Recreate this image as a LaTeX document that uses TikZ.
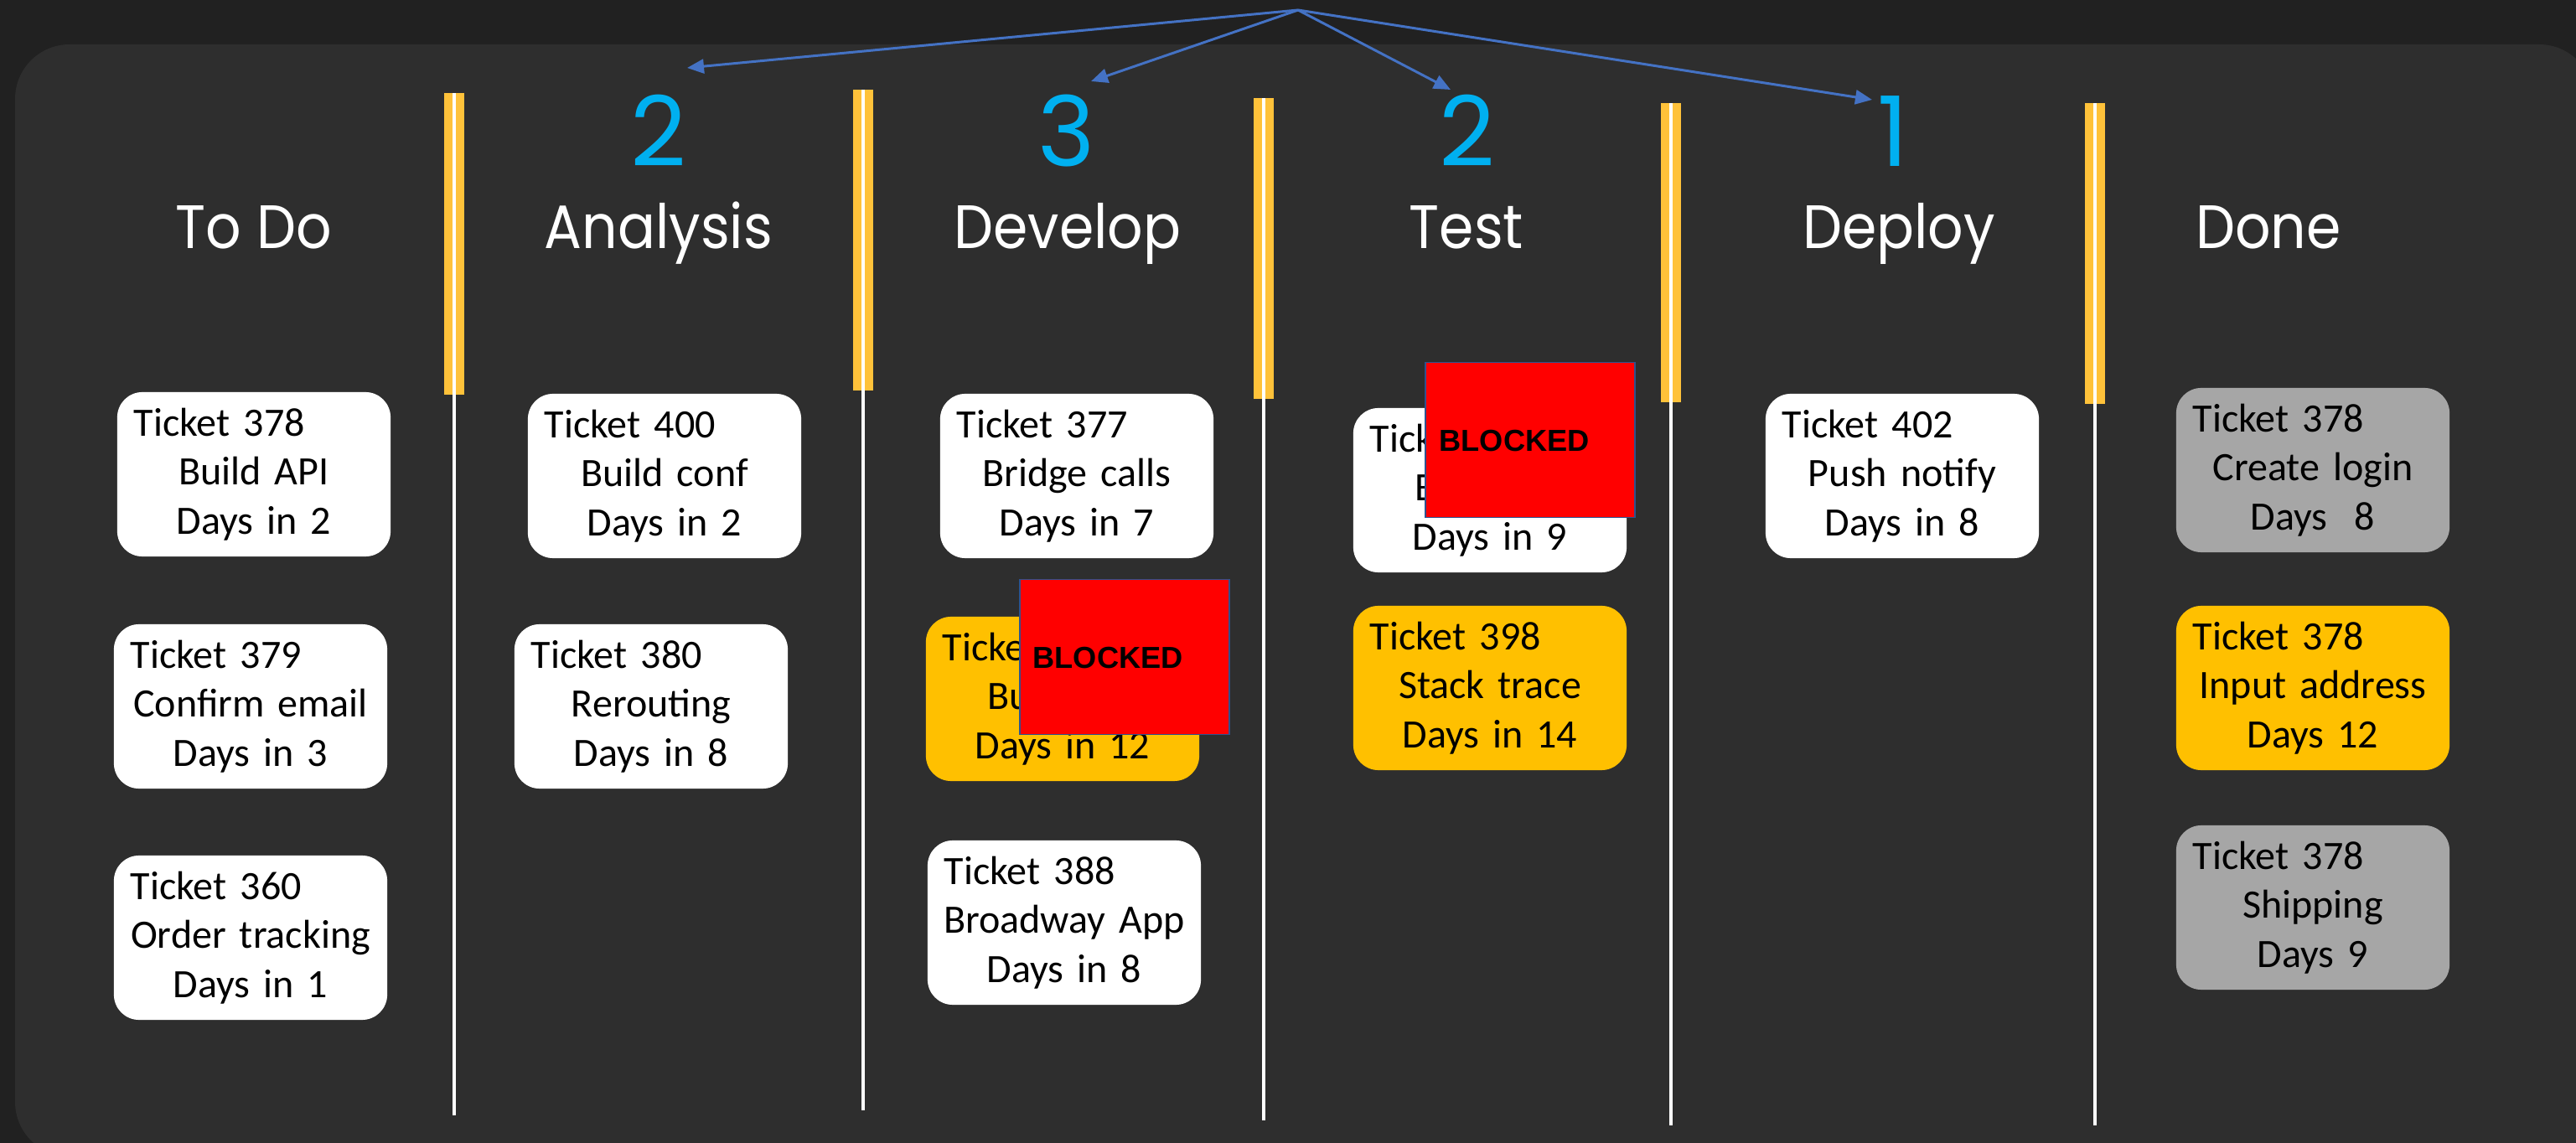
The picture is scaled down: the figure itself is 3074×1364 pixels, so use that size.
\documentclass[tikz,border=0pt]{standalone}
\usepackage{fontspec}
\setmainfont{Carlito}
\newfontfamily\headfont[FakeStretch=0.91]{Poppins}
\newfontfamily\numfont{Poppins}
\newfontfamily\blockfont{Liberation Sans}
\usetikzlibrary{arrows.meta}
\definecolor{bgout}{HTML}{212121}
\definecolor{panelc}{HTML}{2E2E2E}
\definecolor{bary}{HTML}{FFC23A}
\definecolor{cardy}{HTML}{FFC000}
\definecolor{cardg}{HTML}{A6A6A6}
\definecolor{numblue}{HTML}{00B0F0}
\definecolor{arrowb}{HTML}{4472C4}
\definecolor{blockedge}{HTML}{2F528F}
\newcommand\firstln[1]{\makebox[\linewidth][l]{\hspace{0.12cm}#1}}
\begin{document}
\begin{tikzpicture}[x=0.01cm,y=-0.01cm,
  card/.style={rounded corners=0.3cm, minimum width=3.26cm, minimum height=1.96cm, text width=3.1cm, inner xsep=0.08cm, inner ysep=0pt, align=center, font=\fontsize{13.66}{16.7}\selectfont, text=black},
  wcard/.style={card, fill=white},
  ycard/.style={card, fill=cardy},
  gcard/.style={card, fill=cardg},
  blocked/.style={fill=red, draw=blockedge, line width=0.5pt, minimum width=2.5cm, minimum height=1.85cm, inner sep=0pt},
  blabel/.style={font=\blockfont\bfseries\fontsize{10.3}{12}\selectfont, anchor=west, inner sep=0pt, text=black},
  head/.style={font=\headfont\fontsize{20.8}{25}\selectfont, text=white, anchor=base, inner sep=0pt},
  num/.style={font=\numfont\fontsize{33}{40}\selectfont, text=numblue, anchor=base, inner sep=0pt},
  bar/.style={fill=bary},
  lane/.style={draw=white, line width=0.04cm},
  pointer/.style={draw=arrowb, line width=0.85pt, -{Triangle[length=0.2cm, width=0.17cm]}}
]
\useasboundingbox (0,0) rectangle (3074,1364);
\fill[bgout] (0,0) rectangle (3074,1364);
\fill[panelc, rounded corners=0.65cm] (18,53) rectangle (3095,1380);

% dividers
\fill[bar] (530,111) rectangle (554,471);
\draw[lane] (542,111) -- (542,1331);
\fill[bar] (1018,107) rectangle (1042,466);
\draw[lane] (1030,107) -- (1030,1325);
\fill[bar] (1496,117) rectangle (1520,476);
\draw[lane] (1508,117) -- (1508,1337);
\fill[bar] (1982,123) rectangle (2006,480);
\draw[lane] (1994,123) -- (1994,1343);
\fill[bar] (2488,123) rectangle (2512,482);
\draw[lane] (2500,123) -- (2500,1343);

% headers
\node[head] (hTodo) at (303,297) {To Do};
\node[head] (hAna) at (786,297) {Analysis};
\node[head] (hDev) at (1274,297) {Develop};
\node[head] (hTest) at (1750,297) {Test};
\node[head] (hDep) at (2266,297) {Deploy};
\node[head] (hDone) at (2707,297) {Done};

% WIP numbers
\node[num] (nAna) at (786,199) {2};
\node[num] (nDev) at (1273,199) {3};
\node[num] (nTest) at (1751,199) {2};
\node[num] (nDep) at (2259,199) {1};

% arrows
\coordinate (src) at (1549,12);
\coordinate (t1) at (820,81);
\coordinate (t2) at (1302,97);
\coordinate (t3) at (1731,107);
\coordinate (t4) at (2234,119);
\draw[pointer] (src) -- (t1);
\draw[pointer] (src) -- (t2);
\draw[pointer] (src) -- (t3);
\draw[pointer] (src) -- (t4);

% To Do
\node[wcard] (c1) at (303,566) {\firstln{Ticket 378}\\Build API\\Days in 2};
\node[wcard] (c2) at (299,843) {\firstln{Ticket 379}\\Confirm email\\Days in 3};
\node[wcard] (c3) at (299,1119) {\firstln{Ticket 360}\\Order tracking\\Days in 1};
% Analysis
\node[wcard] (c4) at (793,568) {\firstln{Ticket 400}\\Build conf\\Days in 2};
\node[wcard] (c5) at (777,843) {\firstln{Ticket 380}\\Rerouting\\Days in 8};
% Develop
\node[wcard] (c6) at (1285,568) {\firstln{Ticket 377}\\Bridge calls\\Days in 7};
\node[ycard] (c7) at (1268,834) {\firstln{Ticket}\\Bu\phantom{ild API}\\Days in 12};
\node[wcard] (c8) at (1270,1101) {\firstln{Ticket 388}\\Broadway App\\Days in 8};
% Test
\node[wcard] (c9) at (1778,585) {\firstln{Tick}\\B\phantom{uild API}\\Days in 9};
\node[ycard] (c10) at (1778,821) {\firstln{Ticket 398}\\Stack trace\\Days in 14};
% Deploy
\node[wcard] (c11) at (2270,568) {\firstln{Ticket 402}\\Push notify\\Days in 8};
% Done
\node[gcard] (c12) at (2760,561) {\firstln{Ticket 378}\\Create login\\Days~~8};
\node[ycard] (c13) at (2760,821) {\firstln{Ticket 378}\\Input address\\Days 12};
\node[gcard] (c14) at (2760,1083) {\firstln{Ticket 378}\\Shipping\\Days 9};

% blocked flags
\node[blocked] (b1) at (1342,784) {};
\node[blabel] (b1t) at (1232,785) {BLOCKED};
\node[blocked] (b2) at (1826,525) {};
\node[blabel] (b2t) at (1717,526) {BLOCKED};
\end{tikzpicture}
\end{document}
